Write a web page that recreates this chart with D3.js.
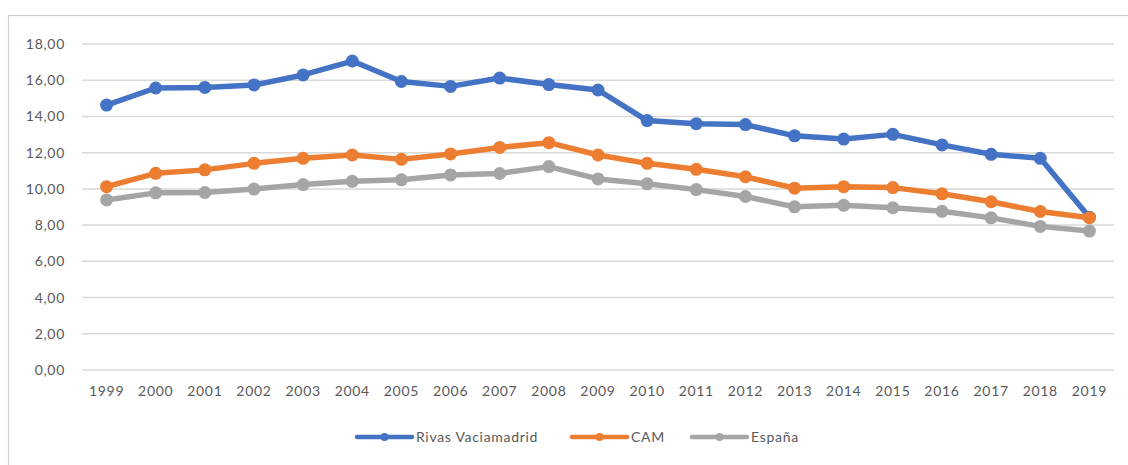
<!DOCTYPE html>
<html>
<head>
<meta charset="utf-8">
<script src="https://cdn.jsdelivr.net/npm/d3@7"></script>
<style>
  body { margin: 0; background: #fff; }
  svg text { font-family: Lato, "Open Sans", sans-serif; fill: #595959; letter-spacing: 0.7px; }
</style>
</head>
<body>
<div id="chart"></div>
<script>
// years along the x axis
const years = ["1999","2000","2001","2002","2003","2004","2005","2006","2007","2008","2009",
               "2010","2011","2012","2013","2014","2015","2016","2017","2018","2019"];

// values
const rivas = [14.63,15.57,15.60,15.74,16.29,17.06,15.93,15.66,16.12,15.76,15.46,
               13.77,13.60,13.55,12.93,12.75,13.01,12.43,11.91,11.69,8.44];
const cam = [10.12,10.86,11.05,11.41,11.69,11.87,11.63,11.93,12.29,12.55,11.87,
             11.41,11.08,10.67,10.04,10.12,10.07,9.73,9.29,8.75,8.41];
const espana = [9.39,9.78,9.80,9.99,10.24,10.42,10.50,10.77,10.85,11.23,10.55,
                10.28,9.96,9.58,9.01,9.09,8.96,8.76,8.40,7.93,7.67];

const yTicks = [0,2,4,6,8,10,12,14,16,18];

const series = [
  {name: "Rivas Vaciamadrid", values: rivas, color: "#4472C4"},
  {name: "CAM", values: cam, color: "#ED7D31"},
  {name: "España", values: espana, color: "#A5A5A5"}
];

const width = 1128, height = 465;
const margin = {top: 44, right: 14, bottom: 95, left: 82};

const svg = d3.select("#chart").append("svg")
    .attr("width", width)
    .attr("height", height);

// chart frame
svg.append("rect")
    .attr("x", 8.5).attr("y", 15.5)
    .attr("width", 1130).attr("height", 460)
    .attr("fill", "none")
    .attr("stroke", "#D0D0D0")
    .attr("stroke-width", 1.2);

const x = d3.scaleBand()
    .domain(years)
    .range([margin.left, width - margin.right]);

const y = d3.scaleLinear()
    .domain([0, 18])
    .range([height - margin.bottom, margin.top]);

// gridlines
svg.append("g")
  .selectAll("line")
  .data(yTicks)
  .join("line")
    .attr("x1", margin.left)
    .attr("x2", width - margin.right)
    .attr("y1", d => y(d))
    .attr("y2", d => y(d))
    .attr("stroke", "#D9D9D9")
    .attr("stroke-width", 1.5);

const fmt = d => d3.format(".2f")(d).replace(".", ",");

const yAxis = svg.append("g")
    .attr("transform", `translate(${margin.left - 17},0)`)
    .call(d3.axisLeft(y).tickValues(yTicks).tickFormat(fmt).tickSize(0).tickPadding(0));
yAxis.select(".domain").remove();
yAxis.selectAll("text").attr("font-size", 14).attr("fill", "#595959");

const xAxis = svg.append("g")
    .attr("transform", `translate(0,${y(0) + 13})`)
    .call(d3.axisBottom(x).tickSize(0).tickPadding(3));
xAxis.select(".domain").remove();
xAxis.selectAll("text").attr("font-size", 14).attr("fill", "#595959");

const line = d3.line()
    .x((d, i) => x(years[i]) + x.bandwidth() / 2)
    .y(d => y(d));

series.forEach(s => {
  const g = svg.append("g");
  g.append("path")
      .datum(s.values)
      .attr("d", line)
      .attr("fill", "none")
      .attr("stroke", s.color)
      .attr("stroke-width", 5.5)
      .attr("stroke-linejoin", "round");
  g.selectAll("circle")
    .data(s.values)
    .join("circle")
      .attr("cx", (d, i) => x(years[i]) + x.bandwidth() / 2)
      .attr("cy", d => y(d))
      .attr("r", 6.5)
      .attr("fill", s.color);
});

// legend
const legendX = [357, 572, 692];
const legend = svg.append("g");
series.forEach((s, i) => {
  const lg = legend.append("g").attr("transform", `translate(${legendX[i]},437)`);
  lg.append("line")
      .attr("x1", 0).attr("x2", 55)
      .attr("stroke", s.color)
      .attr("stroke-width", 4.5)
      .attr("stroke-linecap", "round");
  lg.append("circle")
      .attr("cx", 27.5).attr("r", 4)
      .attr("fill", s.color);
  lg.append("text")
      .attr("x", 59).attr("dy", "0.35em")
      .attr("font-size", 14)
      .text(s.name);
});
</script>
</body>
</html>
